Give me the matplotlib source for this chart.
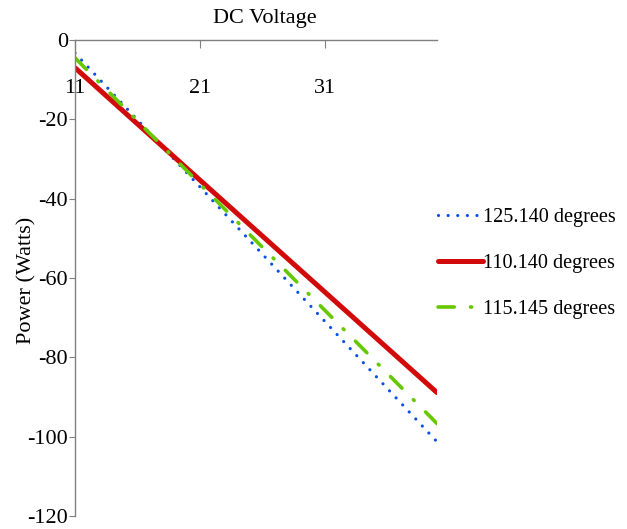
import matplotlib.pyplot as plt

plt.rcParams['font.family'] = ['Liberation Serif', 'DejaVu Serif']
plt.rcParams['axes.unicode_minus'] = False

voltage = [11, 21, 31, 40]
power_125 = [-3.3, -37.0, -70.9, -101.3]
power_110 = [-7.0, -35.3, -63.5, -88.9]
power_115 = [-4.5, -36.3, -68.1, -96.7]
labels = ['125.140 degrees', '110.140 degrees', '115.145 degrees']

fig = plt.figure(figsize=(6.27, 5.29), dpi=100)
ax = fig.add_axes([0.1196, 0.0246, 0.5774, 0.8998])

ax.plot(voltage, power_125, color='#0a50e6', lw=2.3,
        linestyle=(0, (0.01, 3.0)), dash_capstyle='round', label=labels[0])
ax.plot(voltage, power_110, color='#d20a0a', lw=3.6, solid_capstyle='round',
        label=labels[1])
ax.plot(voltage, power_115, color='#66c800', lw=2.6,
        linestyle=(0, (4.5, 4.5, 0.3, 4.5)), dash_capstyle='round', label=labels[2])

ax.set_xlim(11, 40)
ax.set_ylim(-120, 0)
ax.set_xticks([11, 21, 31])
ax.set_yticks(range(-120, 1, 20))

grey = '#808080'
ax.spines['right'].set_visible(False)
ax.spines['top'].set_visible(False)
ax.spines['bottom'].set_position(('data', 0))
for s in ('left', 'bottom'):
    ax.spines[s].set_color(grey)
    ax.spines[s].set_linewidth(1.0)
ax.tick_params(axis='x', direction='out', length=6, color=grey, pad=22, labelsize=16)
ax.tick_params(axis='y', direction='out', length=4, color=grey, pad=1, labelsize=16)

fig.text(27 / 627, 1 - 280 / 529, 'Power (Watts)', fontsize=16, rotation=90,
         ha='center', va='center')
fig.text(0.423, 0.965, 'DC Voltage', fontsize=16, ha='center', va='center')

ax.legend(loc='center left', bbox_to_anchor=(0.98, 0.53), frameon=False,
          fontsize=14.6, handlelength=2.2, handletextpad=0.0, labelspacing=1.32,
          borderaxespad=0)

fig.savefig('out.png', dpi=100)
